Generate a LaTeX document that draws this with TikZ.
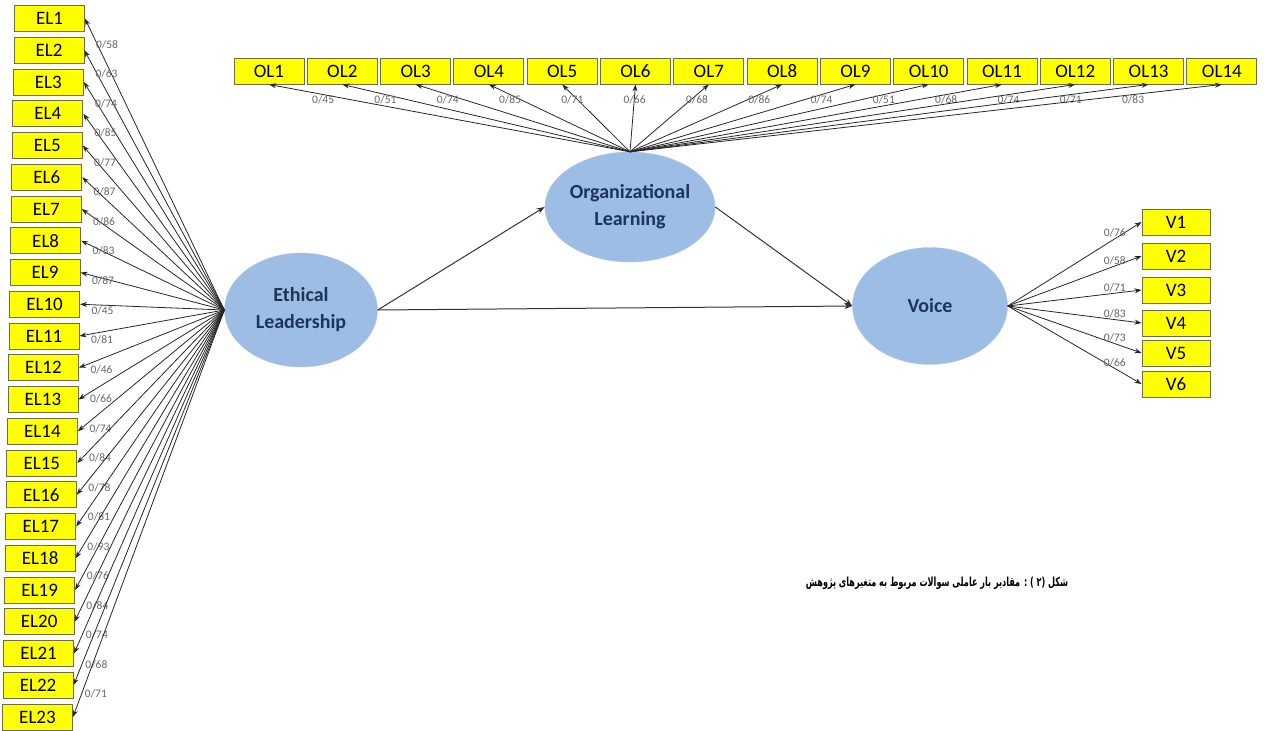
\documentclass[tikz,border=0pt]{standalone}
\usepackage{fontspec}
\setmainfont{Carlito}
\newfontfamily\arabicfont[Script=Arabic]{DejaVu Sans}
\TeXXeTstate=1
\usetikzlibrary{positioning,arrows.meta,shapes.geometric}

\definecolor{itemyellow}{RGB}{255,255,0}
\definecolor{itemborder}{RGB}{110,110,70}
\definecolor{latentblue}{RGB}{157,189,228}
\definecolor{latenttext}{RGB}{30,52,90}

\begin{document}
\begin{tikzpicture}[
    x=1pt, y=-1pt,
    item/.style={rectangle, draw=itemborder, fill=itemyellow, line width=0.9pt, minimum width=70pt, minimum height=26pt, inner sep=0pt, font=\fontsize{19}{19}\selectfont},
    latent/.style={ellipse, fill=latentblue, draw=latentblue!85!white, text=latenttext, align=center, minimum width=153pt, minimum height=114pt, inner sep=0pt, font=\bfseries\fontsize{20}{27}\selectfont},
    load/.style={-{Stealth[length=7pt,width=5pt]}, line width=0.8pt, draw=black!85},
    struct/.style={-{Stealth[length=8pt,width=6pt]}, line width=1pt, draw=black!80},
    lbl/.style={font=\fontsize{11.5}{11.5}\selectfont, text=black!60, inner sep=1pt}
]
\useasboundingbox (0,0) rectangle (1264,731);

% Latent variables
\node[latent] (ethical) at (301,310) {Ethical\\Leadership};
\node[latent, minimum width=155pt, minimum height=110pt] (org) at (630,207) {Organizational\\Learning};
\node[latent, minimum width=155pt, minimum height=117pt] (voice) at (930,306) {Voice};

% Ethical leadership items
\foreach \i/\w [evaluate=\i as \yy using 18.5+(\i-1)*31.75, evaluate=\i as \xx using 49.5-12*(\i-1)/22] in
    {1/58,2/63,3/74,4/85,5/77,6/87,7/86,8/83,9/87,10/45,11/81,12/46,13/66,14/74,15/84,16/78,17/81,18/93,19/76,20/84,21/74,22/68,23/71}{
  \node[item] (el\i) at (\xx,\yy) {EL\i};
  \draw[load] (ethical.west) -- node[lbl, pos=0.93, anchor=north west] {0/\w} (el\i.east);
}

% Organizational learning items
\foreach \i/\w [evaluate=\i as \xx using 269+(\i-1)*73.3] in
    {1/45,2/51,3/74,4/85,5/71,6/66,7/68,8/86,9/74,10/51,11/68,12/74,13/71,14/83}{
  \node[item] (ol\i) at (\xx,71) {OL\i};
  \draw[load] (org.north) -- node[lbl, pos=0.85, below] {0/\w} (ol\i.south);
}

% Voice items
\foreach \i/\yy/\w in {1/222/76,2/256/58,3/290/71,4/323/83,5/353/73,6/384/66}{
  \node[item, minimum width=68pt] (v\i) at (1176,\yy) {V\i};
  \draw[load] (voice.east) -- node[lbl, pos=0.8, above] {0/\w} (v\i.west);
}

% Structural paths
\draw[struct] (ethical.east) -- (org.west);
\draw[struct] (ethical.east) -- (voice.west);
\draw[struct] (org.east) -- (voice.west);

% Caption
\node[font=\arabicfont\bfseries\fontsize{12.5}{12.5}\selectfont, xscale=0.65, transform shape] (caption) at (937,583) {\beginR شکل (۲ ) : مقادیر بار عاملی سوالات مربوط به متغیرهای پژوهش\endR};
\end{tikzpicture}
\end{document}
